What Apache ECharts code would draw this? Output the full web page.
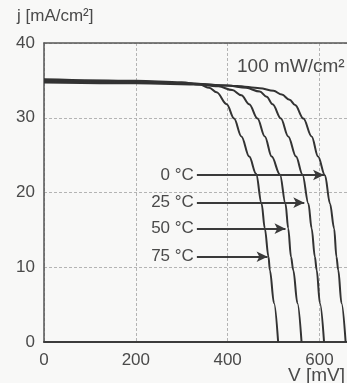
<!DOCTYPE html>
<html>
<head>
<meta charset="utf-8">
<script src="https://cdn.jsdelivr.net/npm/echarts@6/dist/echarts.min.js"></script>
<style>
  html, body { margin: 0; padding: 0; background: #f8f8f7; }
  #chart { width: 347px; height: 383px; }
</style>
</head>
<body>
<div id="chart"></div>
<script>
// I–V curves of a solar cell at 100 mW/cm² for four cell temperatures.
var temperatures = ['0 °C', '25 °C', '50 °C', '75 °C'];

// [voltage mV, current density mA/cm²]
var curve0 = [[0,34.7],[200,34.6],[350,34.45],[420,34.25],[470,33.95],[500,33.6],[518,33.1],[535,32.4],[547,31.7],[565,29.9],[583,27.5],[597,24.8],[612,22.3],[623,18.5],[632,15.2],[637,11.4],[641,9.6],[648,5.2],[657,0]];
var curve25 = [[0,34.85],[200,34.75],[330,34.55],[400,34.3],[440,34.0],[470,33.5],[485,32.8],[498,31.8],[516,29.9],[532,27.5],[549,24.8],[563,22.4],[576,18.5],[583,15.2],[590,11.4],[594,9.6],[601,5.2],[610,0]];
var curve50 = [[0,35.0],[200,34.85],[320,34.6],[380,34.2],[410,33.7],[430,33.0],[447,31.8],[465,29.9],[481,27.5],[496,24.8],[514,22.4],[526,18.5],[532,15.2],[538,11.4],[543,9.6],[552,5.2],[561,0]];
var curve75 = [[0,35.15],[200,34.95],[300,34.75],[340,34.4],[360,34.0],[376,33.4],[398,31.8],[414,29.9],[430,27.5],[447,24.8],[462,22.5],[474,18.5],[481,15.2],[489,11.4],[492,9.6],[501,5.2],[510,0]];

// arrows from each label to its curve: [start mV, end mV, level mA/cm²]
var arrowStart = [333, 333, 333, 333];
var arrowEnd = [610, 567, 526, 487];
var arrowLevel = [22.34, 18.64, 15.16, 11.41];

var xTicks = { min: 0, max: 660, interval: 200 };
var yTicks = { min: 0, max: 40, interval: 10 };

var curves = [curve0, curve25, curve50, curve75];
var ink = '#333';
var textColor = '#4a4a4a';
var font = 'Liberation Sans, Arial, sans-serif';

var series = curves.map(function (pts, i) {
  return {
    type: 'line',
    name: temperatures[i],
    data: pts,
    showSymbol: false,
    smooth: 0.35,
    smoothMonotone: 'x',
    lineStyle: { color: ink, width: 2 },
    z: 3,
    markLine: {
      silent: true,
      symbol: ['none', 'arrow'],
      symbolSize: [8, 11],
      lineStyle: { color: '#3a3a3a', width: 2, type: 'solid' },
      label: {
        show: true,
        position: 'start',
        distance: 3,
        formatter: temperatures[i],
        color: textColor,
        fontSize: 17,
        fontFamily: font
      },
      data: [[
        { coord: [arrowStart[i], arrowLevel[i]] },
        { coord: [arrowEnd[i], arrowLevel[i]] }
      ]]
    }
  };
});

var chart = echarts.init(document.getElementById('chart'), null, { renderer: 'canvas' });
chart.setOption({
  backgroundColor: '#f8f8f7',
  animation: false,
  grid: { left: 44, right: 0, top: 43, bottom: 41, containLabel: false },
  xAxis: [{
    type: 'value',
    min: xTicks.min, max: xTicks.max, interval: xTicks.interval,
    axisLine: { show: true, lineStyle: { color: '#3c3c3c', width: 2 } },
    axisTick: { show: false },
    axisLabel: { margin: 10, color: textColor, fontSize: 17, fontFamily: font },
    splitLine: { show: true, lineStyle: { color: '#b4b4b4', width: 1, type: [3, 2] } }
  }, {
    type: 'value',
    position: 'top',
    min: xTicks.min, max: xTicks.max, interval: xTicks.interval,
    axisLine: { show: true, onZero: false, lineStyle: { color: '#555', width: 1.5 } },
    axisTick: { show: false },
    axisLabel: { show: false },
    splitLine: { show: false }
  }],
  yAxis: {
    type: 'value',
    min: yTicks.min, max: yTicks.max, interval: yTicks.interval,
    axisLine: { show: true, lineStyle: { color: '#555', width: 1.5 } },
    axisTick: { show: false },
    axisLabel: { margin: 9, color: textColor, fontSize: 17, fontFamily: font },
    splitLine: { show: true, lineStyle: { color: '#b4b4b4', width: 1, type: [3, 2] } }
  },
  graphic: [
    { type: 'text', left: 17, top: 8, style: { text: 'j [mA/cm²]', fill: textColor, font: '17px ' + font } },
    { type: 'text', left: 288, top: 366, style: { text: 'V [mV]', fill: textColor, font: '19px ' + font } },
    { type: 'text', left: 237, top: 57, style: { text: '100 mW/cm²', fill: textColor, font: '19px ' + font } }
  ],
  series: series
});
</script>
</body>
</html>
